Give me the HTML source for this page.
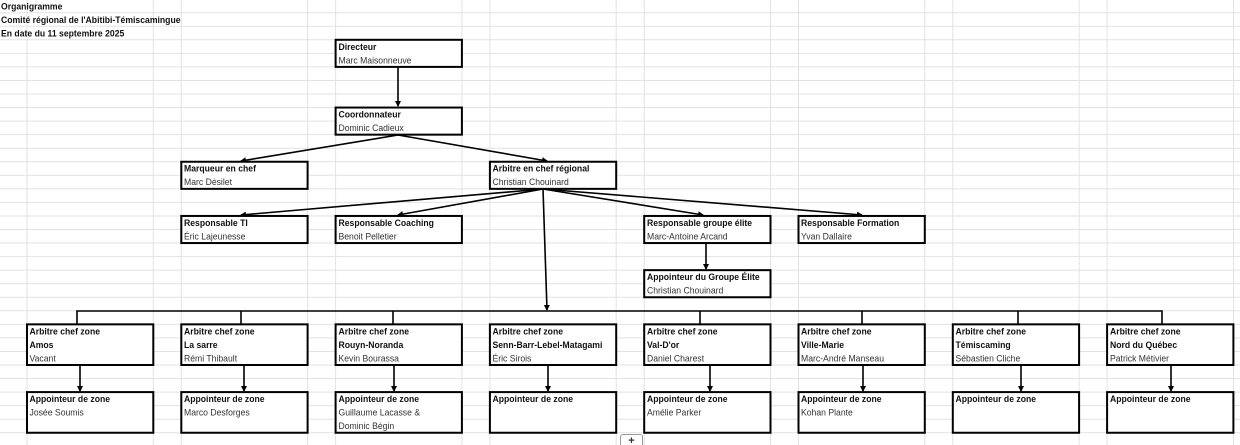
<!DOCTYPE html>
<html><head><meta charset="utf-8"><style>
html,body{margin:0;padding:0;background:#fff;width:1240px;height:445px;overflow:hidden}
svg{display:block}
text{font-family:"Liberation Sans",sans-serif;font-size:9.6px}
.b{font-weight:bold;fill:#111}
.n{fill:#333}
</style></head><body>
<svg width="1240" height="445" viewBox="0 0 1240 445" xmlns="http://www.w3.org/2000/svg">
<defs>
<marker id="ah" markerWidth="6" markerHeight="6" refX="5" refY="3" orient="auto" markerUnits="userSpaceOnUse"><path d="M0,0 L6,3 L0,6 z" fill="#000"/></marker>
</defs>
<g stroke="#e2e2e2" stroke-width="1">
<line x1="27" y1="0" x2="27" y2="445"/><line x1="153.3" y1="0" x2="153.3" y2="445"/>
<line x1="181.3" y1="0" x2="181.3" y2="445"/><line x1="307.6" y1="0" x2="307.6" y2="445"/>
<line x1="335.6" y1="0" x2="335.6" y2="445"/><line x1="461.9" y1="0" x2="461.9" y2="445"/>
<line x1="489.9" y1="0" x2="489.9" y2="445"/><line x1="616.2" y1="0" x2="616.2" y2="445"/>
<line x1="644.2" y1="0" x2="644.2" y2="445"/><line x1="770.5" y1="0" x2="770.5" y2="445"/>
<line x1="798.5" y1="0" x2="798.5" y2="445"/><line x1="924.8" y1="0" x2="924.8" y2="445"/>
<line x1="952.8" y1="0" x2="952.8" y2="445"/><line x1="1079.1" y1="0" x2="1079.1" y2="445"/>
<line x1="1107.1" y1="0" x2="1107.1" y2="445"/><line x1="1233.4" y1="0" x2="1233.4" y2="445"/>
<line x1="0" y1="12.7" x2="1240" y2="12.7"/><line x1="0" y1="26.25" x2="1240" y2="26.25"/>
<line x1="0" y1="39.8" x2="1240" y2="39.8"/><line x1="0" y1="53.35" x2="1240" y2="53.35"/>
<line x1="0" y1="66.9" x2="1240" y2="66.9"/><line x1="0" y1="80.45" x2="1240" y2="80.45"/>
<line x1="0" y1="94" x2="1240" y2="94"/><line x1="0" y1="107.55" x2="1240" y2="107.55"/>
<line x1="0" y1="121.1" x2="1240" y2="121.1"/><line x1="0" y1="134.65" x2="1240" y2="134.65"/>
<line x1="0" y1="148.2" x2="1240" y2="148.2"/><line x1="0" y1="161.75" x2="1240" y2="161.75"/>
<line x1="0" y1="175.3" x2="1240" y2="175.3"/><line x1="0" y1="188.85" x2="1240" y2="188.85"/>
<line x1="0" y1="202.4" x2="1240" y2="202.4"/><line x1="0" y1="215.95" x2="1240" y2="215.95"/>
<line x1="0" y1="229.5" x2="1240" y2="229.5"/><line x1="0" y1="243.05" x2="1240" y2="243.05"/>
<line x1="0" y1="256.6" x2="1240" y2="256.6"/><line x1="0" y1="270.15" x2="1240" y2="270.15"/>
<line x1="0" y1="283.7" x2="1240" y2="283.7"/><line x1="0" y1="297.25" x2="1240" y2="297.25"/>
<line x1="0" y1="310.8" x2="1240" y2="310.8"/><line x1="0" y1="324.35" x2="1240" y2="324.35"/>
<line x1="0" y1="337.9" x2="1240" y2="337.9"/><line x1="0" y1="351.45" x2="1240" y2="351.45"/>
<line x1="0" y1="365" x2="1240" y2="365"/><line x1="0" y1="378.55" x2="1240" y2="378.55"/>
<line x1="0" y1="392.1" x2="1240" y2="392.1"/><line x1="0" y1="405.65" x2="1240" y2="405.65"/>
<line x1="0" y1="419.2" x2="1240" y2="419.2"/><line x1="0" y1="432.75" x2="1240" y2="432.75"/>
</g>

<g stroke="#000" stroke-width="1.6" fill="none">
<line x1="398" y1="67" x2="398" y2="106" marker-end="url(#ah)"/>
<line x1="398" y1="135" x2="241" y2="161" marker-end="url(#ah)"/>
<line x1="398" y1="135" x2="547" y2="161" marker-end="url(#ah)"/>
<line x1="543" y1="189" x2="241" y2="215" marker-end="url(#ah)"/>
<line x1="543" y1="189" x2="398" y2="215" marker-end="url(#ah)"/>
<line x1="543" y1="189" x2="703" y2="215" marker-end="url(#ah)"/>
<line x1="543" y1="189" x2="862" y2="215" marker-end="url(#ah)"/>
<line x1="543" y1="189" x2="547" y2="310" marker-end="url(#ah)"/>
<line x1="706" y1="243" x2="706" y2="269" marker-end="url(#ah)"/>
<polyline points="77,324 77,311 1162,311 1162,324"/>
<line x1="241" y1="311" x2="241" y2="324"/>
<line x1="393" y1="311" x2="393" y2="324"/>
<line x1="700" y1="311" x2="700" y2="324"/>
<line x1="862" y1="311" x2="862" y2="324"/>
<line x1="1018" y1="311" x2="1018" y2="324"/>
<line x1="80" y1="365" x2="80" y2="391" marker-end="url(#ah)"/>
<line x1="244" y1="365" x2="244" y2="391" marker-end="url(#ah)"/>
<line x1="394" y1="365" x2="394" y2="391" marker-end="url(#ah)"/>
<line x1="548" y1="365" x2="548" y2="391" marker-end="url(#ah)"/>
<line x1="710" y1="365" x2="710" y2="391" marker-end="url(#ah)"/>
<line x1="863" y1="365" x2="863" y2="391" marker-end="url(#ah)"/>
<line x1="1021" y1="365" x2="1021" y2="391" marker-end="url(#ah)"/>
<line x1="1171" y1="365" x2="1171" y2="391" marker-end="url(#ah)"/>
</g>

<g stroke="#000" stroke-width="2" fill="#fff">
<rect x="335.6" y="39.8" width="126.3" height="27.1"/>
<rect x="335.6" y="107.55" width="126.3" height="27.1"/>
<rect x="181.3" y="161.75" width="126.3" height="27.1"/>
<rect x="489.9" y="161.75" width="126.3" height="27.1"/>
<rect x="181.3" y="215.95" width="126.3" height="27.1"/>
<rect x="335.6" y="215.95" width="126.3" height="27.1"/>
<rect x="644.2" y="215.95" width="126.3" height="27.1"/>
<rect x="798.5" y="215.95" width="126.3" height="27.1"/>
<rect x="644.2" y="270.15" width="126.3" height="27.1"/>
<rect x="27" y="324.35" width="126.3" height="40.65"/>
<rect x="181.3" y="324.35" width="126.3" height="40.65"/>
<rect x="335.6" y="324.35" width="126.3" height="40.65"/>
<rect x="489.9" y="324.35" width="126.3" height="40.65"/>
<rect x="644.2" y="324.35" width="126.3" height="40.65"/>
<rect x="798.5" y="324.35" width="126.3" height="40.65"/>
<rect x="952.8" y="324.35" width="126.3" height="40.65"/>
<rect x="1107.1" y="324.35" width="126.3" height="40.65"/>
<rect x="27" y="392.1" width="126.3" height="40.65"/>
<rect x="181.3" y="392.1" width="126.3" height="40.65"/>
<rect x="335.6" y="392.1" width="126.3" height="40.65"/>
<rect x="489.9" y="392.1" width="126.3" height="40.65"/>
<rect x="644.2" y="392.1" width="126.3" height="40.65"/>
<rect x="798.5" y="392.1" width="126.3" height="40.65"/>
<rect x="952.8" y="392.1" width="126.3" height="40.65"/>
<rect x="1107.1" y="392.1" width="126.3" height="40.65"/>
</g>

<text class="b" transform="translate(1 9.3) scale(.9 1)">Organigramme</text>
<text class="b" transform="translate(1 22.8) scale(.9 1)">Comité régional de l'Abitibi-Témiscamingue</text>
<text class="b" transform="translate(1 36.4) scale(.9 1)">En date du 11 septembre 2025</text>

<text class="b" transform="translate(338.5 49.8) scale(.9 1)">Directeur</text>
<text class="n" transform="translate(338.5 63.3) scale(.9 1)">Marc Maisonneuve</text>
<text class="b" transform="translate(338.5 117.5) scale(.9 1)">Coordonnateur</text>
<text class="n" transform="translate(338.5 131) scale(.9 1)">Dominic Cadieux</text>
<text class="b" transform="translate(184 171.7) scale(.9 1)">Marqueur en chef</text>
<text class="n" transform="translate(184 185.2) scale(.9 1)">Marc Désilet</text>
<text class="b" transform="translate(492.5 171.7) scale(.9 1)">Arbitre en chef régional</text>
<text class="n" transform="translate(492.5 185.2) scale(.9 1)">Christian Chouinard</text>
<text class="b" transform="translate(184 225.9) scale(.9 1)">Responsable TI</text>
<text class="n" transform="translate(184 239.4) scale(.9 1)">Éric Lajeunesse</text>
<text class="b" transform="translate(338.5 225.9) scale(.9 1)">Responsable Coaching</text>
<text class="n" transform="translate(338.5 239.4) scale(.9 1)">Benoit Pelletier</text>
<text class="b" transform="translate(647 225.9) scale(.9 1)">Responsable groupe élite</text>
<text class="n" transform="translate(647 239.4) scale(.9 1)">Marc-Antoine Arcand</text>
<text class="b" transform="translate(801 225.9) scale(.9 1)">Responsable Formation</text>
<text class="n" transform="translate(801 239.4) scale(.9 1)">Yvan Dallaire</text>
<text class="b" transform="translate(647 280.1) scale(.9 1)">Appointeur du Groupe Élite</text>
<text class="n" transform="translate(647 293.6) scale(.9 1)">Christian  Chouinard</text>

<text class="b" transform="translate(29.5 334.3) scale(.9 1)">Arbitre chef  zone</text>
<text class="b" transform="translate(29.5 347.8) scale(.9 1)">Amos</text>
<text class="n" transform="translate(29.5 361.4) scale(.9 1)">Vacant</text>
<text class="b" transform="translate(184 334.3) scale(.9 1)">Arbitre chef  zone</text>
<text class="b" transform="translate(184 347.8) scale(.9 1)">La sarre</text>
<text class="n" transform="translate(184 361.4) scale(.9 1)">Rémi Thibault</text>
<text class="b" transform="translate(338.5 334.3) scale(.9 1)">Arbitre chef  zone</text>
<text class="b" transform="translate(338.5 347.8) scale(.9 1)">Rouyn-Noranda</text>
<text class="n" transform="translate(338.5 361.4) scale(.9 1)">Kevin Bourassa</text>
<text class="b" transform="translate(492.5 334.3) scale(.9 1)">Arbitre chef  zone</text>
<text class="b" transform="translate(492.5 347.8) scale(.9 1)">Senn-Barr-Lebel-Matagami</text>
<text class="n" transform="translate(492.5 361.4) scale(.9 1)">Éric Sirois</text>
<text class="b" transform="translate(647 334.3) scale(.9 1)">Arbitre chef  zone</text>
<text class="b" transform="translate(647 347.8) scale(.9 1)">Val-D'or</text>
<text class="n" transform="translate(647 361.4) scale(.9 1)">Daniel Charest</text>
<text class="b" transform="translate(801 334.3) scale(.9 1)">Arbitre chef  zone</text>
<text class="b" transform="translate(801 347.8) scale(.9 1)">Ville-Marie</text>
<text class="n" transform="translate(801 361.4) scale(.9 1)">Marc-André Manseau</text>
<text class="b" transform="translate(955.5 334.3) scale(.9 1)">Arbitre chef  zone</text>
<text class="b" transform="translate(955.5 347.8) scale(.9 1)">Témiscaming</text>
<text class="n" transform="translate(955.5 361.4) scale(.9 1)">Sébastien Cliche</text>
<text class="b" transform="translate(1110 334.3) scale(.9 1)">Arbitre chef  zone</text>
<text class="b" transform="translate(1110 347.8) scale(.9 1)">Nord du Québec</text>
<text class="n" transform="translate(1110 361.4) scale(.9 1)">Patrick Métivier</text>

<text class="b" transform="translate(29.5 402.1) scale(.9 1)">Appointeur de zone</text>
<text class="n" transform="translate(29.5 415.6) scale(.9 1)">Josée Soumis</text>
<text class="b" transform="translate(184 402.1) scale(.9 1)">Appointeur de zone</text>
<text class="n" transform="translate(184 415.6) scale(.9 1)">Marco Desforges</text>
<text class="b" transform="translate(338.5 402.1) scale(.9 1)">Appointeur de zone</text>
<text class="n" transform="translate(338.5 415.6) scale(.9 1)">Guillaume Lacasse &amp;</text>
<text class="n" transform="translate(338.5 429.2) scale(.9 1)">Dominic Bégin</text>
<text class="b" transform="translate(492.5 402.1) scale(.9 1)">Appointeur de zone</text>
<text class="b" transform="translate(647 402.1) scale(.9 1)">Appointeur de zone</text>
<text class="n" transform="translate(647 415.6) scale(.9 1)">Amélie Parker</text>
<text class="b" transform="translate(801 402.1) scale(.9 1)">Appointeur de zone</text>
<text class="n" transform="translate(801 415.6) scale(.9 1)">Kohan Plante</text>
<text class="b" transform="translate(955.5 402.1) scale(.9 1)">Appointeur de zone</text>
<text class="b" transform="translate(1110 402.1) scale(.9 1)">Appointeur de zone</text>

<rect x="620.5" y="434.5" width="22" height="14" rx="2.5" fill="#fff" stroke="#999" stroke-width="1"/>
<text x="631.5" y="444" text-anchor="middle" style="font-size:11px;font-weight:bold" fill="#333">+</text>
</svg>
</body></html>
